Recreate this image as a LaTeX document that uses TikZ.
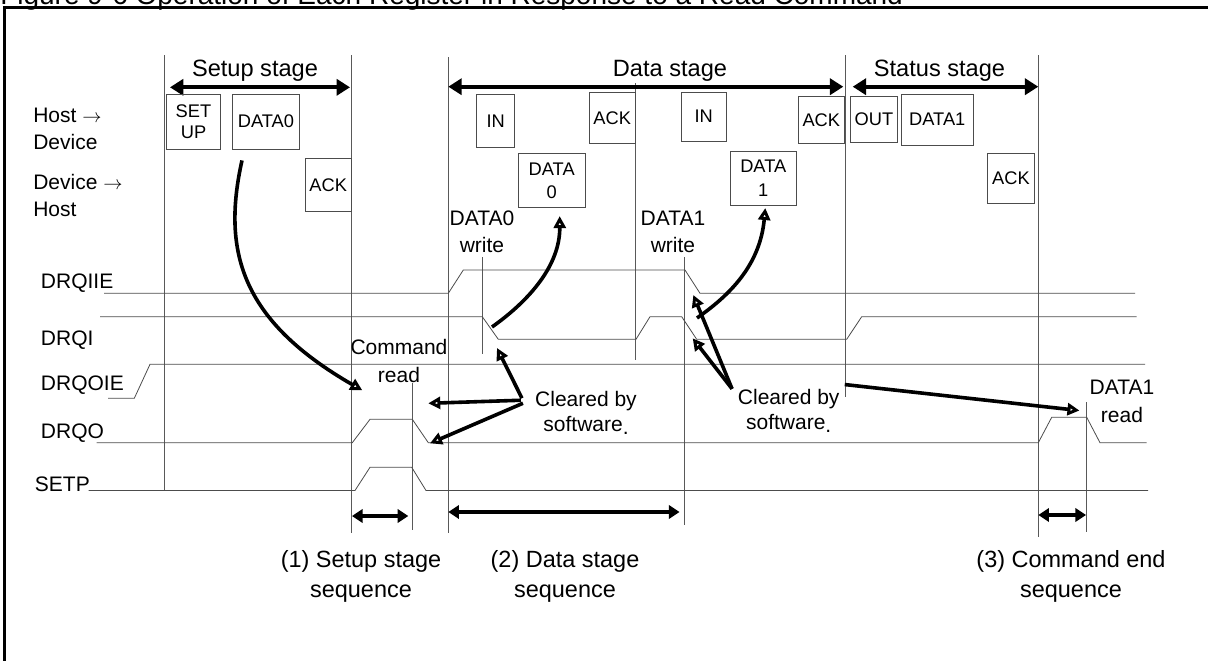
\documentclass[tikz,border=0pt]{standalone}
\usepackage{fontspec}
\setmainfont{Liberation Sans}
\usetikzlibrary{arrows.meta,positioning,calc}
\newcommand{\lblfont}{\fontsize{15.75}{20.25}\selectfont}
\newcommand{\pktfont}{\fontsize{13.7}{15.5}\selectfont}
\newcommand{\stgfont}{\fontsize{17.7}{21}\selectfont}
\newcommand{\seqfont}{\fontsize{17.6}{19.7}\selectfont}
\newcommand{\ttlfont}{\fontsize{21}{25}\selectfont}

\begin{document}
\begin{tikzpicture}[x=0.75pt,y=-0.75pt,font=\lblfont]
\tikzstyle{grid}=[black!65,line width=0.6pt]
\tikzstyle{wave}=[black!70,line width=0.6pt]
\tikzstyle{pkt}=[draw=black!70,line width=0.6pt,inner sep=0pt,align=center,font=\pktfont]
\tikzstyle{sig}=[anchor=base west,inner sep=0pt]
\tikzstyle{note}=[align=center,inner sep=0pt]
\tikzstyle{stagearr}=[line width=3pt,{Triangle[length=10pt,width=12pt]}-{Triangle[length=10pt,width=12pt]}]
\tikzstyle{seqarr}=[line width=2.8pt,{Triangle[length=8pt,width=10pt]}-{Triangle[length=8pt,width=10pt]}]
\tikzstyle{callout}=[line width=2.7pt,-{Triangle[open,length=9pt,width=9pt]}]

\useasboundingbox (0,0) rectangle (1208,661);
% frame and caption
\draw[line width=1.8pt] (4.5,661) -- (4.5,7.5) -- (1208,7.5);
\node[anchor=base west,inner sep=0pt,font=\ttlfont] (title) at (0,4) {Figure 9-6 Operation of Each Register in Response to a Read Command};

% stage boundaries and event markers
\draw[grid] (164.5,55) -- (164.5,491);
\draw[grid] (351.7,55) -- (351.7,533);
\draw[grid] (448.3,57) -- (448.3,533);
\draw[grid] (845,55) -- (845,397);
\draw[grid] (1038.3,55) -- (1038.3,537);
\draw[grid] (412.5,383) -- (412.5,530);
\draw[grid] (482.3,257) -- (482.3,354);
\draw[grid] (635.7,83) -- (635.7,360);
\draw[grid] (684,257) -- (684,525);
\draw[grid] (1086.7,402) -- (1086.7,532);

% stages
\node[anchor=base,inner sep=0pt,font=\stgfont] (setupstg) at (255,76.7) {Setup stage};
\node[anchor=base,inner sep=0pt,font=\stgfont] (datastg) at (670,76.7) {Data stage};
\node[anchor=base,inner sep=0pt,font=\stgfont] (statusstg) at (939.5,76.7) {Status stage};
\draw[stagearr] (170,87.3) -- (350,87.3);
\draw[stagearr] (448.3,86.7) -- (843.3,86.7);
\draw[stagearr] (852.7,86.7) -- (1038.3,86.7);

% direction labels
\node[anchor=west,align=left,inner sep=0pt] (h2d) at (33,129) {Host $\rightarrow$\\Device};
\node[anchor=west,align=left,inner sep=0pt] (d2h) at (33,195.5) {Device $\rightarrow$\\Host};

% packets
\node[pkt,minimum width=40.2pt,minimum height=41pt] (setupbox) at (193.5,121.7) {SET\\UP};
\node[pkt,minimum width=50pt,minimum height=41pt] (data0box) at (266,121.7) {DATA0};
\node[pkt,minimum width=34.3pt,minimum height=39.8pt] (ack0) at (328.2,185.2) {ACK};
\node[pkt,minimum width=28.5pt,minimum height=39.8pt] (in1) at (495.7,120.8) {IN};
\node[pkt,minimum width=34.3pt,minimum height=38pt] (ack1) at (612.2,118) {ACK};
\node[pkt,minimum width=50pt,minimum height=40.8pt] (dat0) at (551.7,180.5) {DATA\\[2pt]0};
\node[pkt,minimum width=33.2pt,minimum height=36.5pt] (in2) at (703.8,116.7) {IN};
\node[pkt,minimum width=50pt,minimum height=41pt] (dat1) at (763.3,178.3) {DATA\\[2pt]1};
\node[pkt,minimum width=34.5pt,minimum height=35pt] (ack2) at (821.3,120) {ACK};
\node[pkt,minimum width=35pt,minimum height=34.5pt] (outbox) at (874,119.7) {OUT};
\node[pkt,minimum width=54.5pt,minimum height=38pt] (data1box) at (937.3,119.7) {DATA1};
\node[pkt,minimum width=35pt,minimum height=37.5pt] (ack3) at (1011,178.3) {ACK};

% signal names
\node[sig] (drqiie) at (40.7,288.3) {DRQIIE};
\node[sig] (drqi) at (40.7,345) {DRQI};
\node[sig] (drqoie) at (40.7,390) {DRQOIE};
\node[sig] (drqo) at (40.7,438.3) {DRQO};
\node[sig] (setp) at (34.7,491.5) {SETP};

% waveforms
\draw[wave] (104,293.3) -- (448.3,293.3) -- (463.3,270) -- (685,270) -- (700,293.3) -- (1135,293.3);
\draw[wave] (100,316.7) -- (482.3,316.7) -- (498.3,339.3) -- (636,339.3) -- (650,316.7) -- (681.7,316.7)
  -- (696.7,339.3) -- (846.7,339.3) -- (861.7,316.7) -- (1136.7,316.7);
\draw[wave] (108,398.3) -- (134.3,398.3) -- (150,364.3) -- (1145,364.3);
\draw[wave] (96.7,442.7) -- (352.3,442.7) -- (370,419.3) -- (412.3,419.3) -- (428.3,442.7) -- (1038.3,442.7)
  -- (1051.7,417.3) -- (1086.7,417.3) -- (1100,442.7) -- (1146.7,442.7);
\draw[wave] (88.6,490.5) -- (355,490.5) -- (370,467.3) -- (411.7,467.3) -- (426,490.5) -- (1148,490.5);

% event notes
\node[note,anchor=south] (w0) at (482,252.5) {DATA0\\write};
\node[note,anchor=south] (w1) at (673,252.5) {DATA1\\write};
\node[note,anchor=south] (cmdread) at (399,383.3) {Command\\[1pt]read};
\node[note,anchor=south] (d1read) at (1122,423.3) {DATA1\\[1pt]read};
\node[note,anchor=north] (clr1) at (586,391.4) {Cleared by\\[-1.5pt]software\raisebox{-2.2pt}{.}};
\node[note,anchor=north] (clr2) at (788.7,388.7) {Cleared by\\[-1.5pt]software\raisebox{-2.2pt}{.}};

\coordinate (drqi0) at (492,327);
\coordinate (drqi1) at (697,318);
\coordinate (c1a) at (497,348);
\coordinate (c1b) at (428.3,403.3);
\coordinate (c1c) at (430,443.3);
\coordinate (c2a) at (693.3,295);
\coordinate (c2b) at (692.7,338.3);

% callouts
\draw[callout] ($(data0box.south)+(-24,11)$) .. controls (222,250) and (240,320) .. ($(cmdread.south west)+(12,7)$);
\draw[callout] (drqi0) .. controls (530,300) and (560,265) .. ($(dat0.south)+(8,8)$);
\draw[callout] (drqi1) .. controls (730,295) and (760,265) .. ($(dat1.south)+(2,2)$);
\draw[callout] ($(clr1.west)+(-13,-15)$) -- (c1a);
\draw[callout] ($(clr1.west)+(-14,-13)$) -- (c1b);
\draw[callout] ($(clr1.west)+(-12,-10)$) -- (c1c);
\draw[callout] ($(clr2.west)+(-5.6,-21.7)$) -- (c2a);
\draw[callout] ($(clr2.west)+(-5.6,-21.7)$) -- (c2b);
\draw[callout] ($(clr2.east)+(5,-26)$) -- ($(d1read.west)+(-10,9)$);

% sequences
\draw[seqarr] (352,516) -- (408.3,516);
\draw[seqarr] (448.3,512) -- (679.5,512);
\draw[seqarr] (1038.3,515) -- (1086,515);
\node[note,anchor=north,font=\seqfont] (seq1) at (361,550) {(1) Setup stage\\[3pt]sequence};
\node[note,anchor=north,font=\seqfont] (seq2) at (565,550) {(2) Data stage\\[3pt]sequence};
\node[note,anchor=north,font=\seqfont] (seq3) at (1071,550) {(3) Command end\\[3pt]sequence};
\end{tikzpicture}
\end{document}
